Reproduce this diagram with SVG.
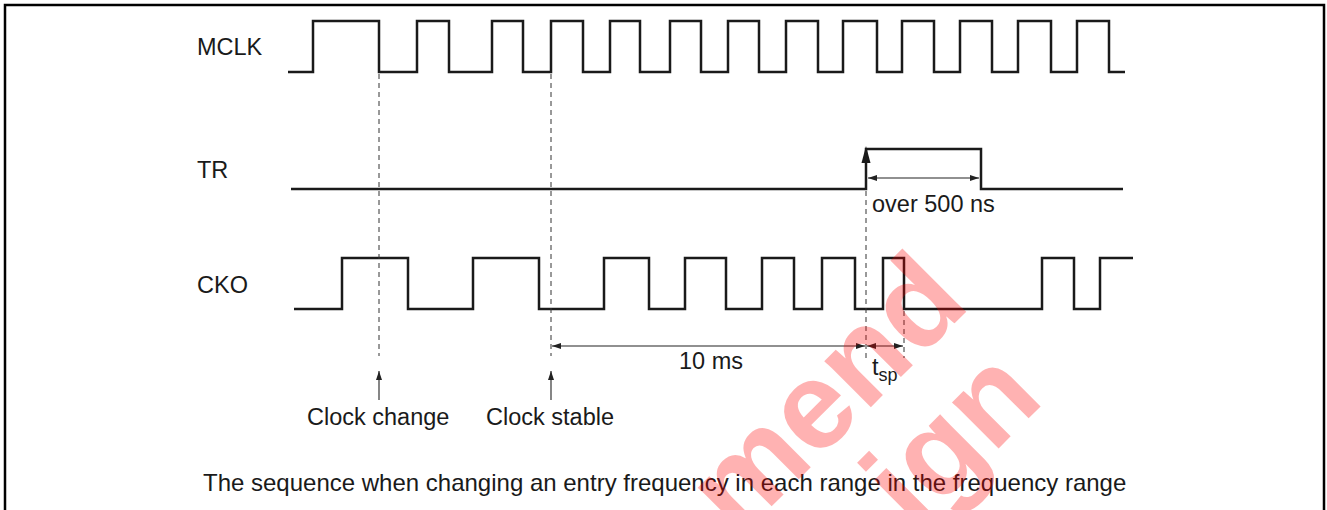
<svg xmlns="http://www.w3.org/2000/svg" width="1327" height="510" viewBox="0 0 1327 510">
<style>
.wave{fill:none;stroke:#1a1a1a;stroke-width:2.5;stroke-linejoin:miter;stroke-linecap:butt}
.dash{fill:none;stroke:#333;stroke-width:1;stroke-dasharray:5 4}
.dim{fill:none;stroke:#222;stroke-width:1.1}
.lbl{font-family:"Liberation Sans",Arial,sans-serif;font-size:23.5px;fill:#1a1a1a}
.wm{font-family:"Liberation Sans",Arial,sans-serif;font-weight:bold;font-size:124px;fill:#ff0000;fill-opacity:0.3}
</style>
<defs>
<marker id="ah" markerUnits="userSpaceOnUse" markerWidth="10" markerHeight="8" refX="9" refY="3" orient="auto-start-reverse">
<path d="M0,0 L9,3 L0,6 z" fill="#222"/>
</marker>
</defs>
<rect x="0" y="0" width="1327" height="510" fill="#fff"/>
<path id="frame" d="M5,510 V5 H1324 V510" fill="none" stroke="#000" stroke-width="2.5"/>

<g id="mclk">
<text class="lbl" x="197" y="55">MCLK</text>
<path class="wave" d="M288,72 H313 V21 H379 V72 H417 V21 H449 V72 H492 V21 H523 V72 H551 V21 H583 V72 H610 V21 H640 V72 H670 V21 H701 V72 H728 V21 H759 V72 H786 V21 H818 V72 H843 V21 H877 V72 H902 V21 H934 V72 H960 V21 H992 V72 H1018 V21 H1051 V72 H1077 V21 H1109 V72 H1125"/>
</g>

<g id="tr">
<text class="lbl" x="197" y="178">TR</text>
<path class="wave" d="M291,189 H866 V149 H981 V189 H1123"/>
<path d="M861.5,163 L866,146 L870.5,163 z" fill="#1a1a1a"/>
</g>

<g id="cko">
<text class="lbl" x="197" y="293">CKO</text>
<path class="wave" d="M294,309 H342 V258 H408 V309 H473 V258 H539 V309 H604 V258 H649 V309 H685 V258 H726 V309 H762 V258 H794 V309 H822 V258 H855 V309 H883 V258 H904 V309 H1042 V258 H1074 V309 H1100 V258 H1133"/>
</g>

<g id="connectors">
<line class="dash" x1="379" y1="74" x2="379" y2="356"/>
<line class="dash" x1="551" y1="74" x2="551" y2="356"/>
<line class="dash" x1="866" y1="191" x2="866" y2="358"/>
<line class="dash" x1="904" y1="311" x2="904" y2="358"/>
<line class="dim" x1="868" y1="178" x2="979" y2="178" marker-start="url(#ah)" marker-end="url(#ah)"/>
<line class="dim" x1="552" y1="346" x2="865" y2="346" marker-start="url(#ah)" marker-end="url(#ah)"/>
<line class="dim" x1="867" y1="346" x2="903" y2="346" marker-start="url(#ah)" marker-end="url(#ah)"/>
<line class="dim" x1="379" y1="400" x2="379" y2="371" marker-end="url(#ah)"/>
<line class="dim" x1="551" y1="400" x2="551" y2="371" marker-end="url(#ah)"/>
</g>

<g id="labels">
<text class="lbl" x="872" y="212">over 500 ns</text>
<text class="lbl" x="679" y="369">10 ms</text>
<text class="lbl" x="872" y="375">t<tspan font-size="18" dy="6">sp</tspan></text>
<text class="lbl" x="307" y="425">Clock change</text>
<text class="lbl" x="486" y="425">Clock stable</text>
<text class="lbl" x="203" y="491" style="font-size:24px">The sequence when changing an entry frequency in each range in the frequency range</text>
</g>

<g id="watermark">
<text class="wm" transform="translate(972,306) rotate(-45)" text-anchor="end">mend</text>
<text class="wm" transform="translate(1046,401) rotate(-45)" text-anchor="end">ign</text>
</g>
</svg>
